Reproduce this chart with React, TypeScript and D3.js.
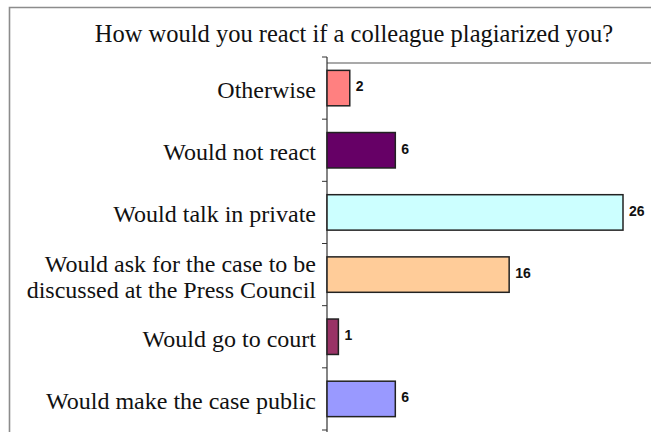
import React from "react";
import * as d3 from "d3";

const categories: string[][] = [
  ["Otherwise"],
  ["Would not react"],
  ["Would talk in private"],
  ["Would ask for the case to be", "discussed at the Press Council"],
  ["Would go to court"],
  ["Would make the case public"],
];
const values: number[] = [2, 6, 26, 16, 1, 6];
const colors: string[] = ["#FF8080", "#660066", "#CCFFFF", "#FFCC99", "#993366", "#9999FF"];
const title = "How would you react if a colleague plagiarized you?";

const W = 651;
const H = 432;

export default function App() {
  const axisX = 327;
  const y = d3
    .scaleBand<number>()
    .domain(d3.range(categories.length))
    .range([57, 430])
    .paddingInner(0.43)
    .paddingOuter(0.215);
  const x = d3.scaleLinear().domain([0, 26]).range([axisX, 623]);
  const step = y.step();
  const bandTop = (i: number) => 57 + i * step;
  const labelFont = 24;
  const lineGap = 26;

  return (
    <svg
      width={W}
      height={H}
      style={{ position: "fixed", left: 0, top: 0, background: "#fff" }}
      xmlns="http://www.w3.org/2000/svg"
    >
      <rect x={0} y={0} width={W} height={H} fill="#fff" />
      {/* outer frame */}
      <path d={`M9.5,${H + 2} V7.5 H${W + 2}`} fill="none" stroke="#8c8c8c" strokeWidth={1.6} />
      <text
        x={354}
        y={42}
        textAnchor="middle"
        fontFamily="Liberation Serif, Times New Roman, serif"
        fontSize={24.5}
        fill="#111"
      >
        {title}
      </text>
      {/* plot area top border */}
      <line x1={axisX} x2={W + 2} y1={63} y2={63} stroke="#8c8c8c" strokeWidth={1.3} />
      {/* axis */}
      <line x1={axisX} x2={axisX} y1={57} y2={H + 2} stroke="#333" strokeWidth={1.2} />
      {d3.range(categories.length + 1).map((i) => (
        <line
          key={"t" + i}
          x1={axisX - 5}
          x2={axisX}
          y1={bandTop(i)}
          y2={bandTop(i)}
          stroke="#333"
          strokeWidth={1}
        />
      ))}
      {categories.map((lines, i) => {
        const cy = bandTop(i) + step / 2;
        const start = cy - ((lines.length - 1) * lineGap) / 2 + 10;
        return (
          <text
            key={"c" + i}
            textAnchor="end"
            fontFamily="Liberation Serif, Times New Roman, serif"
            fontSize={labelFont}
            fill="#111"
          >
            {lines.map((ln, j) => (
              <tspan key={j} x={316} y={start + j * lineGap}>
                {ln}
              </tspan>
            ))}
          </text>
        );
      })}
      {values.map((v, i) => (
        <g key={"b" + i}>
          <rect
            x={x(0)}
            y={y(i)!}
            width={x(v) - x(0)}
            height={y.bandwidth()}
            fill={colors[i]}
            stroke="#222"
            strokeWidth={1.5}
          />
          <text
            x={x(v) + 6}
            y={y(i)! + y.bandwidth() / 2 - 1.5}
            dy="0.35em"
            fontFamily="Liberation Sans, Arial, sans-serif"
            fontWeight="bold"
            fontSize={14}
            fill="#111"
          >
            {v}
          </text>
        </g>
      ))}
    </svg>
  );
}
